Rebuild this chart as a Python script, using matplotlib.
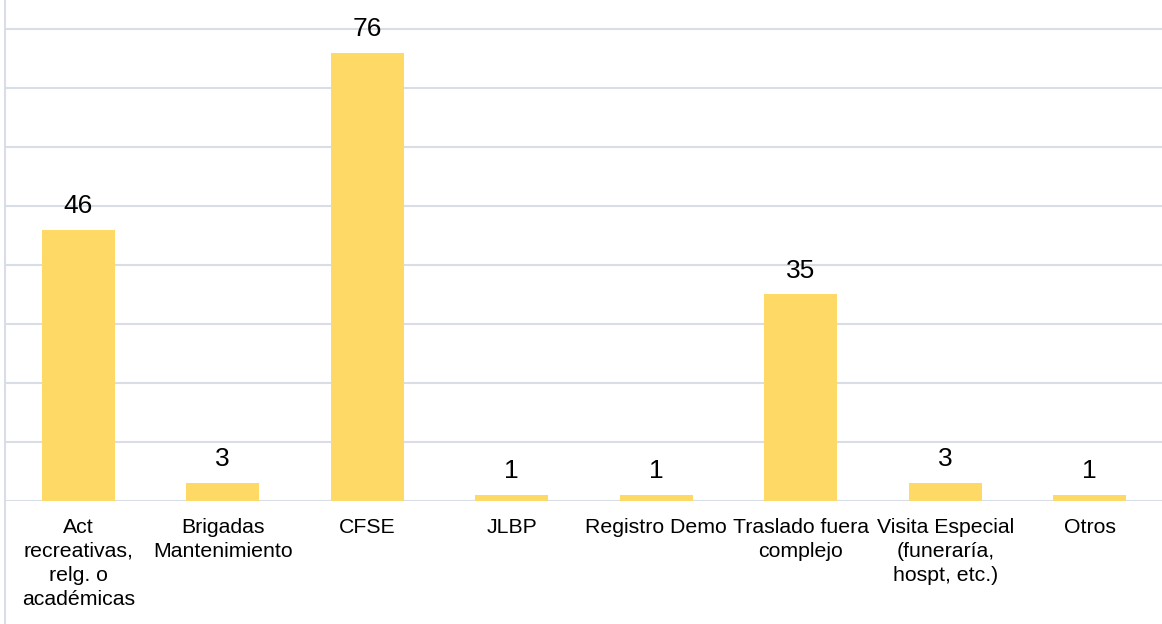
import numpy as np
import matplotlib
matplotlib.use("Agg")
import matplotlib.pyplot as plt
from matplotlib.lines import Line2D

categories = ["Act\nrecreativas,\nrelg. o\nacadémicas", "Brigadas\nMantenimiento", "CFSE", "JLBP",
              "Registro Demo", "Traslado fuera\ncomplejo", "Visita Especial\n(funeraría,\nhospt, etc.)", "Otros"]
values = [46, 3, 76, 1, 1, 35, 3, 1]

plt.rcParams['font.family'] = ['Liberation Sans', 'DejaVu Sans']
grid_color = '#D9DDE5'

fig = plt.figure(figsize=(11.62, 6.24), dpi=100)
ax = fig.add_axes([6/1162, 123/624, 1 - 6/1162, 501/624])

x = np.arange(len(categories))
ax.bar(x, values, width=0.505, color='#FFD966', zorder=3)
for xi, v in zip(x, values):
  ax.annotate(str(v), (xi, v), xytext=(0, 8.5), textcoords='offset points',
    ha='center', va='bottom', fontsize=19, color='#000000', zorder=4)

ax.set_xlim(-0.5, len(categories) - 0.5)
ax.set_ylim(0, 84.9)
ax.set_yticks(np.arange(0, 81, 10))
ax.set_yticklabels([])
ax.yaxis.grid(True, color=grid_color, linewidth=1.5, zorder=0)
ax.tick_params(axis='both', length=0)
ax.set_xticks(x)
ax.set_xticklabels(categories, fontsize=15.3, linespacing=1.33, va='top')
ax.tick_params(axis='x', pad=12)
for s in ax.spines.values():
  s.set_visible(False)

# left border line running the full height
fig.add_artist(Line2D([5/1162, 5/1162], [0, 1], transform=fig.transFigure, color=grid_color, linewidth=1.5))

fig.savefig("out.png", dpi=100)
